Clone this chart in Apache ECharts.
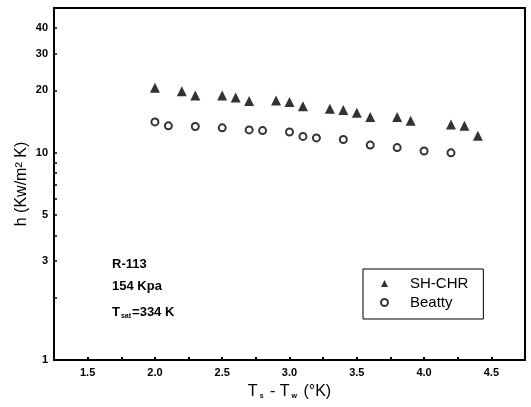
<!DOCTYPE html>
<html>
<head>
<meta charset="utf-8">
<script src="https://cdn.jsdelivr.net/npm/echarts@6/dist/echarts.min.js"></script>
<style>
  html, body { margin: 0; padding: 0; background: #fff; }
  #chart { width: 531px; height: 407px; }
</style>
</head>
<body>
<div id="chart"></div>
<script>
// SH-CHR (triangles)
var shchrX = [2.0, 2.2, 2.3, 2.5, 2.6, 2.7, 2.9, 3.0, 3.1, 3.3, 3.4, 3.5, 3.6, 3.8, 3.9, 4.2, 4.3, 4.4];
var shchrY = [20.6, 19.8, 18.9, 18.9, 18.5, 17.8, 17.9, 17.6, 16.8, 16.3, 16.1, 15.6, 14.9, 14.9, 14.3, 13.7, 13.5, 12.1];
// Beatty (circles)
var beattyX = [2.0, 2.1, 2.3, 2.5, 2.7, 2.8, 3.0, 3.1, 3.2, 3.4, 3.6, 3.8, 4.0, 4.2];
var beattyY = [14.1, 13.5, 13.4, 13.2, 12.9, 12.8, 12.6, 12.0, 11.8, 11.6, 10.9, 10.6, 10.2, 10.0];

var yLabels = [1, 3, 5, 10, 20, 30, 40];
var yTicks = [1, 2, 3, 4, 5, 6, 7, 8, 9, 10, 20, 30, 40];

function pairs(xs, ys) {
  return xs.map(function (x, i) { return [x, ys[i]]; });
}

var chart = echarts.init(document.getElementById('chart'));
var font = 'Liberation Sans, Arial, sans-serif';

chart.setOption({
  animation: false,
  backgroundColor: '#fff',
  grid: {
    left: 54, right: 6, top: 8, bottom: 47,
    show: true, borderColor: '#000', borderWidth: 2
  },
  xAxis: {
    type: 'value',
    min: 1.25, max: 4.75, interval: 0.25,
    name: '{a|T}{s|s}{a| - T}{s|w}{a| (°K)}',
    nameLocation: 'middle',
    nameGap: 24,
    nameMoveOverlap: false,
    nameTextStyle: {
      rich: {
        a: { fontFamily: font, fontSize: 16, color: '#000' },
        s: { fontFamily: font, fontSize: 7, color: '#000', fontWeight: 'bold', padding: [8, 2, 0, 2] }
      }
    },
    axisLine: { lineStyle: { color: '#000', width: 2 } },
    axisTick: { inside: true, length: 3, lineStyle: { color: '#000', width: 2 } },
    splitLine: { show: false },
    axisLabel: {
      margin: 7,
      color: '#000', fontFamily: font, fontSize: 11, fontWeight: 'bold',
      showMinLabel: false, showMaxLabel: false,
      formatter: function (v) {
        return Math.abs(v * 2 - Math.round(v * 2)) < 1e-6 ? v.toFixed(1) : '';
      }
    }
  },
  yAxis: {
    type: 'log',
    logBase: 10,
    min: 1, max: 50,
    name: 'h (Kw/m² K)',
    nameLocation: 'middle',
    nameGap: 24,
    nameMoveOverlap: false,
    nameTextStyle: { fontFamily: font, fontSize: 16, color: '#000' },
    axisLine: { lineStyle: { color: '#000', width: 2 } },
    axisTick: { inside: true, length: 3, customValues: yTicks, lineStyle: { color: '#000', width: 1.5 } },
    splitLine: { show: false },
    minorTick: { show: false },
    axisLabel: {
      customValues: yLabels,
      margin: 6,
      color: '#000', fontFamily: font, fontSize: 11, fontWeight: 'bold'
    }
  },
  legend: {
    left: 363, top: 269,
    orient: 'vertical',
    borderColor: '#000', borderWidth: 1,
    padding: [7, 15, 9, 17],
    itemGap: 4,
    itemWidth: 7, itemHeight: 7,
    textStyle: { fontFamily: font, fontSize: 15, color: '#000', padding: [0, 0, 0, 17] },
    data: [
      { name: 'SH-CHR', icon: 'triangle' },
      { name: 'Beatty', icon: 'emptyCircle', itemStyle: { borderWidth: 1.3 } }
    ]
  },
  graphic: [
    {
      type: 'text', left: 112, top: 258,
      style: { text: 'R-113', font: 'bold 13px ' + font, fill: '#000' }
    },
    {
      type: 'text', left: 112, top: 280,
      style: { text: '154 Kpa', font: 'bold 13px ' + font, fill: '#000' }
    },
    {
      type: 'text', left: 112, top: 306,
      style: {
        text: '{a|T}{s|sat}{a|=334 K}',
        rich: {
          a: { fontFamily: font, fontSize: 13, fontWeight: 'bold', fill: '#000' },
          s: { fontFamily: font, fontSize: 7, fontWeight: 'bold', fill: '#000', padding: [7, 1, 0, 1] }
        }
      }
    }
  ],
  series: [
    {
      name: 'SH-CHR',
      type: 'scatter',
      symbol: 'triangle',
      symbolSize: 10,
      itemStyle: { color: '#000' },
      data: pairs(shchrX, shchrY)
    },
    {
      name: 'Beatty',
      type: 'scatter',
      symbol: 'emptyCircle',
      symbolSize: 7,
      itemStyle: { color: '#000', borderColor: '#000', borderWidth: 1.6 },
      data: pairs(beattyX, beattyY)
    }
  ]
});
</script>
</body>
</html>
